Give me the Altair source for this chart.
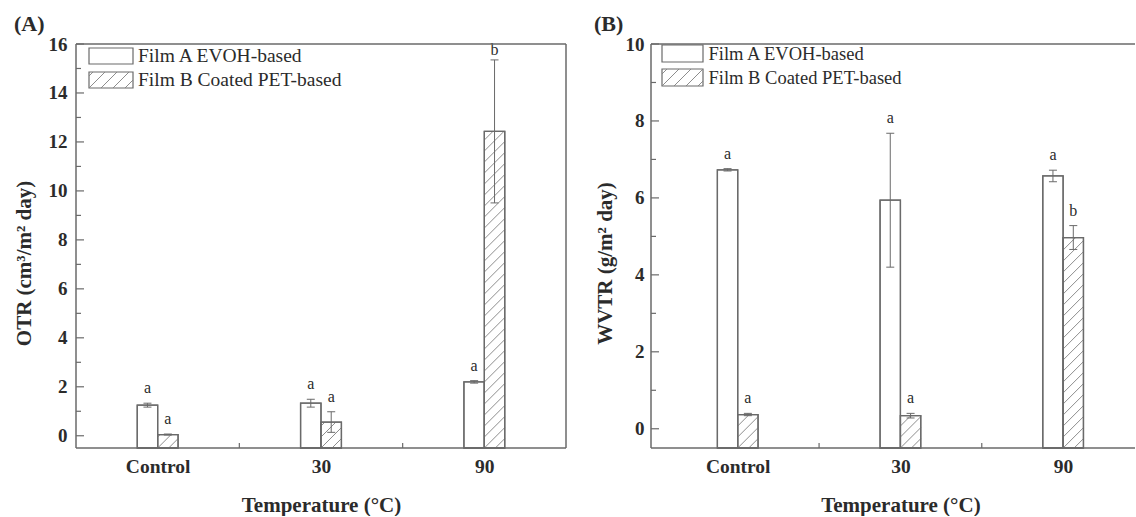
import math
import altair as alt
import pandas as pd

# ---------------- data ----------------
categories = ["Control", "30", "90"]
films = ["Film A EVOH-based", "Film B Coated PET-based"]

otr_film_a = [1.25, 1.33, 2.20]
otr_film_a_err = [0.08, 0.16, 0.05]
otr_film_b = [0.05, 0.56, 12.43]
otr_film_b_err = [0.02, 0.42, 2.92]
otr_letters_a = ["a", "a", "a"]
otr_letters_b = ["a", "a", "b"]
otr_ticks = [0, 2, 4, 6, 8, 10, 12, 14, 16]
otr_minor = [1, 3, 5, 7, 9, 11, 13, 15]

wvtr_film_a = [6.73, 5.94, 6.57]
wvtr_film_a_err = [0.03, 1.74, 0.15]
wvtr_film_b = [0.37, 0.34, 4.97]
wvtr_film_b_err = [0.03, 0.06, 0.31]
wvtr_letters_a = ["a", "a", "a"]
wvtr_letters_b = ["a", "a", "b"]
wvtr_ticks = [0, 2, 4, 6, 8, 10]
wvtr_minor = [1, 3, 5, 7, 9]

# ---------------- style ----------------
FONT = "Liberation Serif"
TXT = "#2b2b2b"
LINE = "#6a6a6a"
HATCH = "#808080"
BAR_W = 0.125      # bar width in category units
CAP_PX = 4.0
HATCH_SP = 11.0
H = 404


def hatch_segments(xl, xr, yb, yt, kx, ky, sp):
    W = (xr - xl) * kx
    Hh = (yt - yb) * ky
    out = []
    k0 = math.floor(-W / sp)
    k1 = math.ceil(Hh / sp)
    for k in range(k0, k1 + 1):
        c = k * sp
        u0 = max(0.0, -c)
        u1 = min(W, Hh - c)
        if u1 - u0 > 0.8:
            out.append(dict(x=xl + u0 / kx, y=yb + (u0 + c) / ky,
                            x2=xl + u1 / kx, y2=yb + (u1 + c) / ky))
    return out


def panel(tag, vals_a, err_a, let_a, vals_b, err_b, let_b, ticks, minor,
          ymin, ymax, W, x0, kx, ytitle, ytitle_pad, ylab_pad, lab_cap,
          leg, leg_fs, xtitle_x):
    x1 = x0 + W / kx
    ky = H / (ymax - ymin)
    xs = alt.Scale(domain=[x0, x1], nice=False, zero=False)
    ys = alt.Scale(domain=[ymin, ymax], nice=False, zero=False)

    xaxis = alt.Axis(values=[0.5, 1.5, 2.5],
                     labelExpr="['" + "','".join(categories) + "'][floor(datum.value)]",
                     ticks=False, tickSize=0, domain=False, grid=False,
                     labelFont=FONT, labelFontSize=19.5, labelFontWeight="bold",
                     labelColor=TXT, labelPadding=9, labelFlush=False,
                     title="Temperature (°C)", titleFont=FONT, titleFontSize=21,
                     titleFontWeight="bold", titleColor=TXT, titlePadding=19,
                     titleX=xtitle_x, titleAlign="center")
    yaxis = alt.Axis(values=ticks, format="d", ticks=False, tickSize=0,
                     domain=False, grid=False, labelFont=FONT, labelFontSize=19,
                     labelFontWeight="bold", labelColor=TXT, labelPadding=ylab_pad,
                     title=ytitle, titleFont=FONT, titleFontSize=21,
                     titleFontWeight="bold", titleColor=TXT, titlePadding=ytitle_pad,
                     titleY=219)

    def X(f):
        return alt.X(f, scale=xs, axis=xaxis)

    def Y(f):
        return alt.Y(f, scale=ys, axis=yaxis)

    rows = []
    for i, cat in enumerate(categories):
        c = i + 0.5
        for j, (v, e, l) in enumerate([(vals_a[i], err_a[i], let_a[i]),
                                        (vals_b[i], err_b[i], let_b[i])]):
            xl = c - BAR_W + j * BAR_W
            rows.append(dict(cat=cat, film=films[j], xl=xl, xr=xl + BAR_W,
                             xc=xl + BAR_W / 2, yb=ymin, val=v,
                             lo=v - e, hi=v + e, letter=l,
                             lab=min(v + e, lab_cap), hatch=j == 1))
    df = pd.DataFrame(rows)

    hatch_rows = []
    caps = []
    for r in rows:
        if r["hatch"]:
            hatch_rows += hatch_segments(r["xl"], r["xr"], r["yb"], r["val"], kx, ky, HATCH_SP)
        for yv in (r["lo"], r["hi"]):
            caps.append(dict(x=r["xc"] - CAP_PX / kx, x2=r["xc"] + CAP_PX / kx, y=yv))
    hdf = pd.DataFrame(hatch_rows)
    cdf = pd.DataFrame(caps)

    bars = alt.Chart(df).mark_rect(fill="white", stroke=LINE, strokeWidth=1.3).encode(
        x=X("xl:Q"), x2="xr:Q", y=Y("yb:Q"), y2="val:Q")
    hatch = alt.Chart(hdf).mark_rule(color=HATCH, strokeWidth=0.9).encode(
        x=X("x:Q"), x2="x2:Q", y=Y("y:Q"), y2="y2:Q")
    outline = alt.Chart(df).mark_rect(fill=None, stroke=LINE, strokeWidth=1.3).encode(
        x=X("xl:Q"), x2="xr:Q", y=Y("yb:Q"), y2="val:Q")
    ebar = alt.Chart(df).mark_rule(color=LINE, strokeWidth=1).encode(
        x=X("xc:Q"), y=Y("lo:Q"), y2="hi:Q")
    ecap = alt.Chart(cdf).mark_rule(color=LINE, strokeWidth=1).encode(
        x=X("x:Q"), x2="x2:Q", y=Y("y:Q"))
    letters = alt.Chart(df).mark_text(font=FONT, fontSize=16, color=TXT,
                                      baseline="alphabetic", dy=-10).encode(
        x=X("xc:Q"), y=Y("lab:Q"), text="letter:N")

    # axis ticks (inward)
    yt_major = alt.Chart(pd.DataFrame({"v": ticks})).mark_rule(color=LINE, strokeWidth=1.2).encode(
        y=Y("v:Q"), x=alt.value(0), x2=alt.value(8))
    yt_minor = alt.Chart(pd.DataFrame({"v": minor})).mark_rule(color=LINE, strokeWidth=1.2).encode(
        y=Y("v:Q"), x=alt.value(0), x2=alt.value(5))
    xt = alt.Chart(pd.DataFrame({"v": [1, 2]})).mark_rule(color=LINE, strokeWidth=1.2).encode(
        x=X("v:Q"), y=alt.value(H), y2=alt.value(H - 5))

    one = pd.DataFrame({"a": [0]})
    frame = [
        alt.Chart(one).mark_rule(color=LINE, strokeWidth=1.5).encode(
            x=alt.value(0), x2=alt.value(W), y=alt.value(0)),
        alt.Chart(one).mark_rule(color=LINE, strokeWidth=1.5).encode(
            x=alt.value(0), x2=alt.value(W), y=alt.value(H)),
        alt.Chart(one).mark_rule(color=LINE, strokeWidth=1.5).encode(
            x=alt.value(0), y=alt.value(0), y2=alt.value(H)),
    ]
    if tag == "(A)":
        frame.append(alt.Chart(one).mark_rule(color=LINE, strokeWidth=1.5).encode(
            x=alt.value(W), y=alt.value(0), y2=alt.value(H)))

    # legend (pixel geometry converted to data units)
    bx0, bx1, rows_y, box_h, tx = leg

    def px2x(p):
        return x0 + p / kx

    def py2y(p):
        return ymax - p / ky
    lrows = []
    lhatch = []
    for j, f in enumerate(films):
        top = rows_y[j]
        lrows.append(dict(film=f, x=px2x(bx0), x2=px2x(bx1), y=py2y(top),
                          y2=py2y(top + box_h), tx=px2x(tx), ty=py2y(top + box_h / 2)))
        if j == 1:
            for s in hatch_segments(bx0, bx1, 0, box_h, 1, 1, 12.0):
                lhatch.append(dict(x=px2x(s["x"]), x2=px2x(s["x2"]),
                                   y=py2y(top + box_h - s["y"]),
                                   y2=py2y(top + box_h - s["y2"])))
    ldf = pd.DataFrame(lrows)
    lhdf = pd.DataFrame(lhatch)
    leg_box = alt.Chart(ldf).mark_rect(fill="white", stroke=LINE, strokeWidth=1.2).encode(
        x=X("x:Q"), x2="x2:Q", y=Y("y:Q"), y2="y2:Q")
    leg_hatch = alt.Chart(lhdf).mark_rule(color=HATCH, strokeWidth=0.9).encode(
        x=X("x:Q"), x2="x2:Q", y=Y("y:Q"), y2="y2:Q")
    leg_text = alt.Chart(ldf).mark_text(font=FONT, fontSize=leg_fs, color=TXT,
                                        align="left", baseline="middle").encode(
        x=X("tx:Q"), y=Y("ty:Q"), text="film:N")

    tag_txt = alt.Chart(pd.DataFrame({"t": [tag]})).mark_text(
        font=FONT, fontSize=22, fontWeight="bold", color=TXT,
        align="left", baseline="middle").encode(
        x=alt.value(-62 if tag == "(A)" else -57), y=alt.value(-20), text="t:N")

    return alt.layer(bars, hatch, outline, ebar, ecap, letters,
                     yt_major, yt_minor, xt, *frame,
                     leg_box, leg_hatch, leg_text, tag_txt).properties(width=W, height=H)


WA = 490
WB = 484
panel_a = panel("(A)", otr_film_a, otr_film_a_err, otr_letters_a,
                otr_film_b, otr_film_b_err, otr_letters_b, otr_ticks, otr_minor,
                -0.5, 16, WA, 0.0, WA / 3.0,
                "OTR (cm³/m² day)", 14, 9, 15.15,
                (13, 57, [4, 28], 16, 62), 19.5, WA / 2)
panel_b = panel("(B)", wvtr_film_a, wvtr_film_a_err, wvtr_letters_a,
                wvtr_film_b, wvtr_film_b_err, wvtr_letters_b, wvtr_ticks, wvtr_minor,
                -0.5, 10, WB, -0.033, 162.7,
                "WVTR (g/m² day)", 10, 7, 10,
                (11, 52, [1, 25], 17, 57.5), 18.5, (0.5 + 0.033 + 1) * 162.7)

chart = alt.hconcat(panel_a, panel_b, spacing=27).properties(
    padding={"left": 13, "top": 13, "right": 0, "bottom": 0}
).configure_view(stroke=None)

chart.save("out.html", embed_options={"renderer": "svg", "actions": False})
